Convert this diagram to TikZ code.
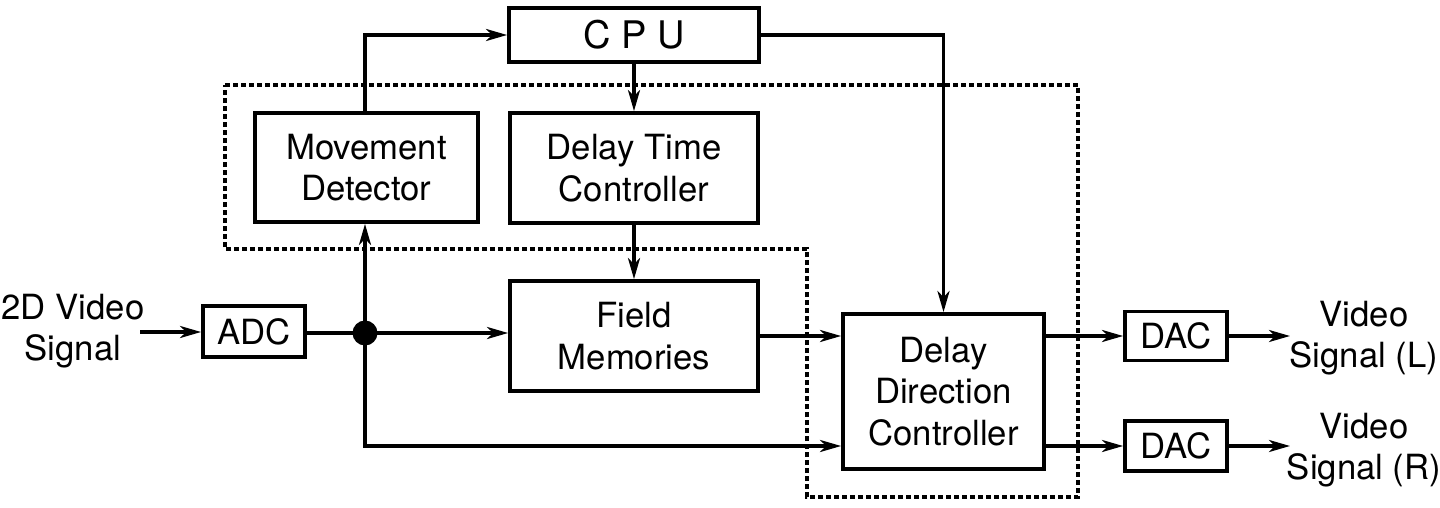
\documentclass[tikz,border=0pt]{standalone}
\usepackage{fontspec}
\setmainfont{TeX Gyre Heros}
\usetikzlibrary{arrows.meta}
\begin{document}
\begin{tikzpicture}[x=1pt,y=-1pt,
  blk/.style={draw,line width=3.8pt,rectangle,inner sep=0pt,align=center,
    font=\fontsize{34.7}{41.5}\selectfont},
  arr/.style={line width=3.2pt,-{Stealth[length=21pt,width=12pt,inset=6pt]}},
  wire/.style={line width=3.2pt},
  lbl/.style={align=center,inner sep=0pt,font=\fontsize{34.7}{41.5}\selectfont},
  bound/.style={line width=3.6pt,dash pattern=on 5pt off 3pt}]
\useasboundingbox (0,0) rectangle (1440,508);
% dashed boundary
\draw[bound] (225,85) -- (1078,85) -- (1078,497) -- (807,497) -- (807,249) -- (225,249) -- cycle;
% blocks
\node[blk,minimum width=250pt,minimum height=54pt,font=\fontsize{38}{40}\selectfont] (cpu) at (634,35) {C P U};
\node[blk,minimum width=223pt,minimum height=109pt] (md) at (366.5,167.5) {Movement\\Detector};
\node[blk,minimum width=248pt,minimum height=110pt] (dtc) at (634,168) {Delay Time\\Controller};
\node[blk,minimum width=248pt,minimum height=110pt] (fm) at (634,336) {Field\\Memories};
\node[blk,minimum width=201pt,minimum height=155pt] (ddc) at (943.5,391.5) {Delay\\Direction\\Controller};
\node[blk,minimum width=102pt,minimum height=51pt] (adc) at (254,331.5) {ADC};
\node[blk,minimum width=102pt,minimum height=49pt] (dacL) at (1176,336) {DAC};
\node[blk,minimum width=102pt,minimum height=50pt] (dacR) at (1176,446) {DAC};
\coordinate (dot) at (365,333);
\fill (dot) circle (12.5pt);
% labels
\node[lbl] (inlbl) at (73,331) {2D Video\\Signal};
\node[lbl] (outLlbl) at (1364,338) {Video\\Signal (L)};
\node[lbl] (outRlbl) at (1364,450) {Video\\Signal (R)};
\coordinate (inL) at (140,332);
\coordinate (outL) at (1290,336);
\coordinate (outR) at (1290,446);
% connectors
\draw[arr] (inL) -- (inL -| adc.west);
\draw[wire] (adc.east |- dot) -- (dot);
\draw[arr] (dot) -- (dot -| fm.west);
\draw[arr] (dot) -- (dot |- md.south);
\draw[arr] (dot |- md.north) |- (cpu.west);
\draw[arr] (cpu.south) -- (dtc.north);
\draw[arr] (dtc.south) -- (fm.north);
\draw[arr] (cpu.east) -| (ddc.north);
\draw[arr] (fm.east) -- (fm.east -| ddc.west);
\draw[arr] (dot) |- (ddc.west |- dacR);
\draw[arr] (ddc.east |- dacL) -- (dacL.west);
\draw[arr] (ddc.east |- dacR) -- (dacR.west);
\draw[arr] (dacL.east) -- (outL);
\draw[arr] (dacR.east) -- (outR);
\end{tikzpicture}
\end{document}
